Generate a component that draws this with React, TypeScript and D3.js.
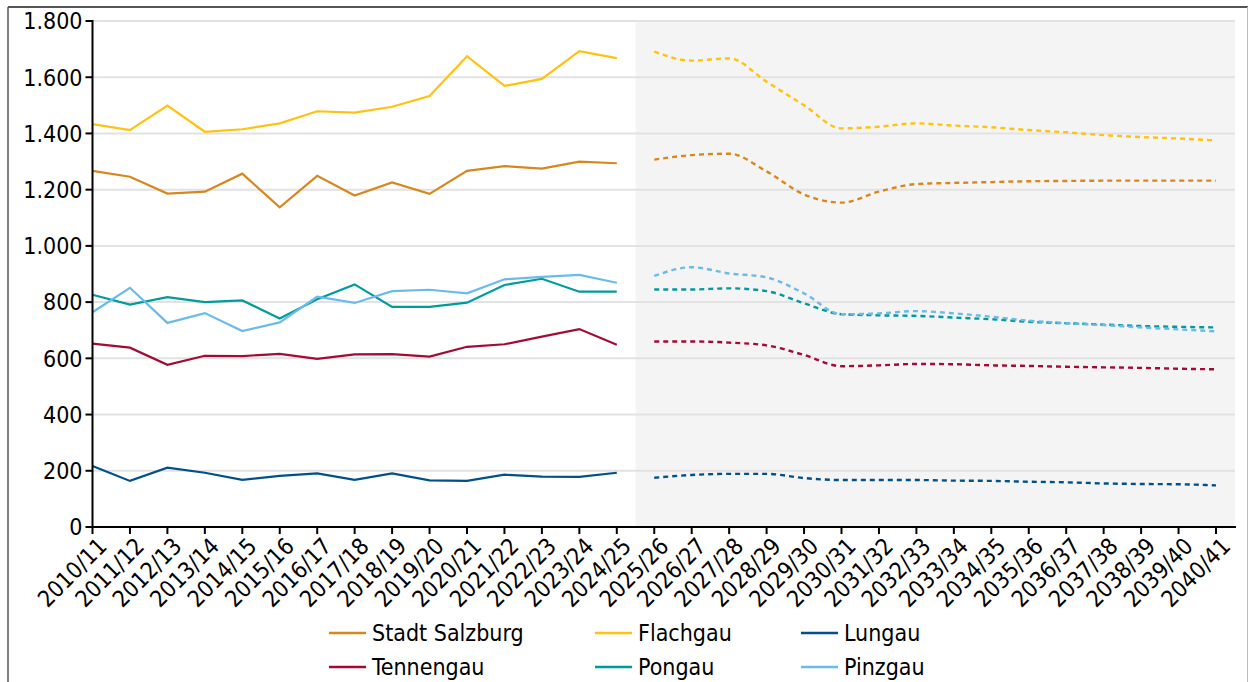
import React from 'react';
import * as d3 from 'd3';

const years = [
  '2010/11', '2011/12', '2012/13', '2013/14', '2014/15', '2015/16', '2016/17', '2017/18',
  '2018/19', '2019/20', '2020/21', '2021/22', '2022/23', '2023/24', '2024/25', '2025/26',
  '2026/27', '2027/28', '2028/29', '2029/30', '2030/31', '2031/32', '2032/33', '2033/34',
  '2034/35', '2035/36', '2036/37', '2037/38', '2038/39', '2039/40', '2040/41',
];
// first projected school year
const projStart = 15;

const yTicks = [0, 200, 400, 600, 800, 1000, 1200, 1400, 1600, 1800];

// observed values 2010/11 - 2024/25
const stadtHist = [1267, 1246, 1186, 1193, 1257, 1137, 1249, 1179, 1226, 1185, 1267, 1284, 1275, 1300, 1294];
const flachHist = [1433, 1412, 1499, 1406, 1415, 1436, 1479, 1474, 1495, 1533, 1675, 1569, 1594, 1693, 1668];
const lungHist = [217, 164, 211, 193, 168, 182, 191, 168, 191, 166, 164, 186, 179, 178, 193];
const tennHist = [652, 638, 577, 609, 608, 616, 598, 614, 615, 606, 641, 650, 677, 704, 648];
const pongHist = [826, 791, 818, 800, 806, 742, 810, 863, 783, 783, 798, 861, 883, 837, 837];
const pinzHist = [764, 851, 726, 761, 697, 728, 819, 797, 839, 844, 831, 881, 890, 897, 869];

// projection 2025/26 - 2040/41
const stadtProj = [1307, 1323, 1328, 1265, 1183, 1154, 1193, 1220, 1224, 1227, 1230, 1231, 1232, 1232, 1232, 1232];
const flachProj = [1691, 1659, 1667, 1584, 1500, 1418, 1424, 1436, 1428, 1422, 1412, 1404, 1394, 1387, 1382, 1375];
const lungProj = [175, 185, 189, 189, 174, 167, 167, 167, 165, 164, 161, 159, 155, 153, 152, 148];
const tennProj = [660, 660, 656, 646, 612, 572, 575, 580, 579, 575, 573, 570, 568, 566, 563, 561];
const pongProj = [845, 845, 849, 839, 796, 757, 753, 751, 745, 739, 730, 725, 720, 715, 712, 710];
const pinzProj = [893, 924, 902, 888, 831, 757, 760, 768, 760, 748, 734, 725, 718, 710, 703, 696];

const series = [
  { name: 'Stadt Salzburg', color: '#d9871c', hist: stadtHist, proj: stadtProj },
  { name: 'Flachgau', color: '#ffc20e', hist: flachHist, proj: flachProj },
  { name: 'Lungau', color: '#00508a', hist: lungHist, proj: lungProj },
  { name: 'Tennengau', color: '#a30a35', hist: tennHist, proj: tennProj },
  { name: 'Pongau', color: '#009b9b', hist: pongHist, proj: pongProj },
  { name: 'Pinzgau', color: '#6bbbea', hist: pinzHist, proj: pinzProj },
];

const FONT = '"DejaVu Sans Condensed", "DejaVu Sans", sans-serif';
const FS = 23;

export default function App() {
  const left = 92.5, top = 21, bottom = 527, plotRight = 1235;
  const x = d3.scalePoint<string>().domain(years).range([left, 1216]);
  const y = d3.scaleLinear().domain([0, 1800]).range([bottom, top]);
  const step = x.step();
  const bandStart = (x(years[projStart - 1]) as number) + step / 2;

  const fmt = d3.formatLocale({ decimal: ',', thousands: '.', grouping: [3], currency: ['', '€'] }).format(',d');

  const histLine = d3.line<number>()
    .x((d, i) => x(years[i]) as number)
    .y((d) => y(d));
  const projLine = d3.line<number>()
    .x((d, i) => x(years[i + projStart]) as number)
    .y((d) => y(d))
    .curve(d3.curveMonotoneX);

  const legendCols = [329, 595, 801];
  const legendRows = [633, 667];

  return (
    <svg width={1249} height={682} style={{ position: 'absolute', left: 0, top: 0 }} fontFamily={FONT}>
      <rect x={0} y={0} width={1249} height={682} fill="#fff" />
      {/* frame */}
      <line x1={8} y1={7} x2={1248} y2={7} stroke="#555" strokeWidth={2} />
      <line x1={8} y1={7} x2={8} y2={682} stroke="#555" strokeWidth={1.5} />
      <line x1={1247.5} y1={7} x2={1247.5} y2={682} stroke="#bbb" strokeWidth={1} />

      <rect x={bandStart} y={top} width={plotRight - bandStart} height={bottom - top} fill="#f4f4f4" />

      {yTicks.filter((t) => t > 0).map((t) => (
        <line key={t} x1={left} x2={plotRight} y1={y(t)} y2={y(t)} stroke="#e2e2e2" strokeWidth={2} />
      ))}

      {series.map((s) => (
        <g key={s.name}>
          <path d={histLine(s.hist) || ''} fill="none" stroke={s.color} strokeWidth={2.2} />
          <path d={projLine(s.proj) || ''} fill="none" stroke={s.color} strokeWidth={2.4} strokeDasharray="5 4" />
        </g>
      ))}

      {/* y axis */}
      <line x1={left} x2={left} y1={top - 1} y2={bottom + 1} stroke="#000" strokeWidth={2} />
      {yTicks.map((t) => (
        <g key={t} transform={`translate(0,${y(t)})`}>
          <line x1={left - 7} x2={left} stroke="#000" strokeWidth={2} />
          <text x={left - 10} dy="0.36em" textAnchor="end" fontSize={FS} fill="#000">{fmt(t)}</text>
        </g>
      ))}

      {/* x axis */}
      <line x1={left - 1} x2={plotRight + 1} y1={bottom} y2={bottom} stroke="#000" strokeWidth={2} />
      {years.map((yr) => {
        const xp = x(yr) as number;
        return (
          <g key={yr}>
            <line x1={xp} x2={xp} y1={bottom} y2={bottom + 7} stroke="#000" strokeWidth={2} />
            <text transform={`translate(${xp + 4},${bottom + 9}) rotate(-45)`} textAnchor="end" dy="0.72em"
              fontSize={FS} fill="#000">{yr}</text>
          </g>
        );
      })}

      {/* legend */}
      {series.map((s, i) => {
        const lx = legendCols[i % 3];
        const ly = legendRows[Math.floor(i / 3)];
        return (
          <g key={s.name} transform={`translate(${lx},${ly})`}>
            <line x1={0} x2={37} y1={0} y2={0} stroke={s.color} strokeWidth={2.5} />
            <text x={43} dy="0.36em" fontSize={FS} fill="#000">{s.name}</text>
          </g>
        );
      })}
    </svg>
  );
}
